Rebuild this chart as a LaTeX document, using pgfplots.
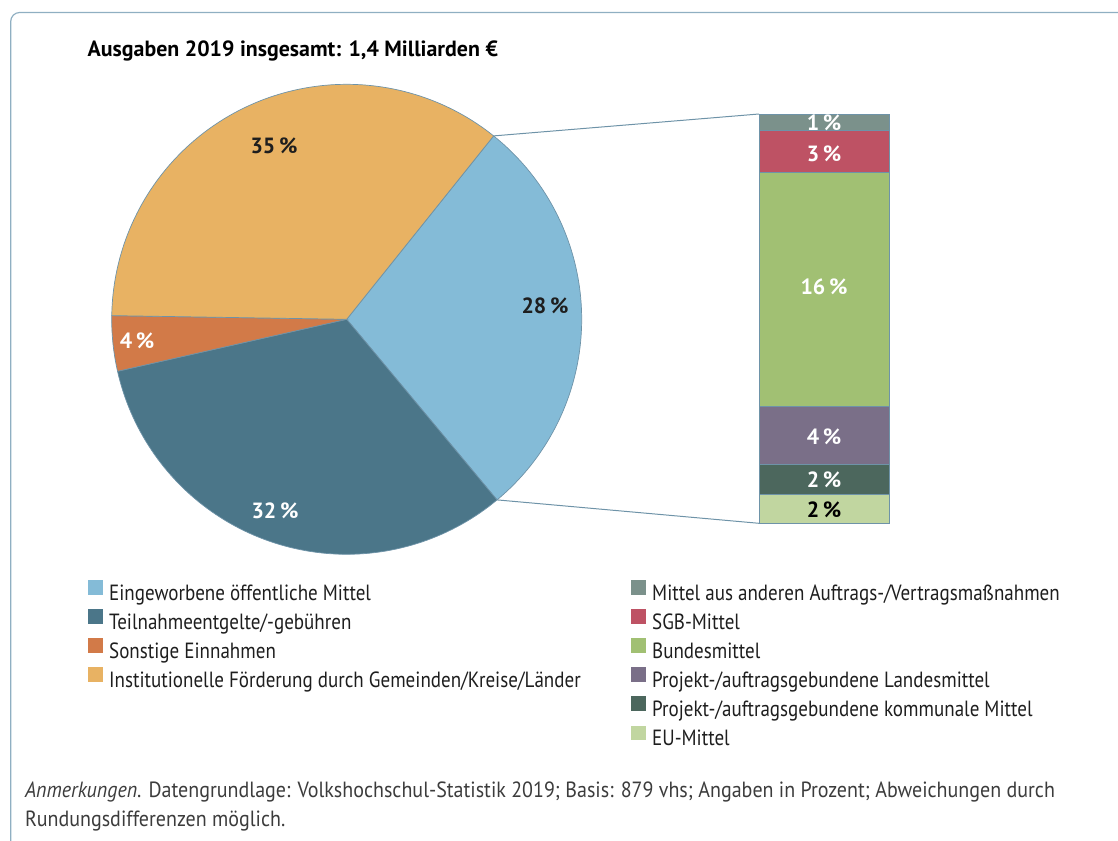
\documentclass[border=0pt]{standalone}
\usepackage{fontspec}
\setmainfont{PT Sans}[FakeStretch=0.865]
\newfontfamily\boldf{PT Sans}[FakeStretch=0.995]
\newfontfamily\notef{PT Sans}[FakeStretch=0.91]
\usepackage{pgfplots}
\usepackage{pgfplotstable}
\pgfplotsset{compat=1.18}

\definecolor{cEing}{HTML}{84BBD7}
\definecolor{cTeil}{HTML}{4B7689}
\definecolor{cSonst}{HTML}{D27A48}
\definecolor{cInst}{HTML}{E8B263}
\definecolor{cAnd}{HTML}{7B918B}
\definecolor{cSGB}{HTML}{BE5264}
\definecolor{cBund}{HTML}{A1C073}
\definecolor{cLand}{HTML}{7A6F88}
\definecolor{cKomm}{HTML}{4C675D}
\definecolor{cEU}{HTML}{C1D6A0}
\definecolor{cLine}{HTML}{6E93A8}
\definecolor{cFrame}{HTML}{8FAFC2}
\definecolor{cText}{HTML}{1E1E1E}
\definecolor{cNote}{HTML}{3C3C3C}

\newcommand\lfont{\fontsize{22bp}{26bp}\selectfont}
\newcommand\bfont{\fontsize{22bp}{26bp}\boldf\bfseries}

% pie: shares of total expenditure (legend order)
\pgfplotstableread{
name value
Eing 28.2
Teil 32.5
Sonst 3.8
Inst 35.5
}\pietable

% bar: split of "Eingeworbene oeffentliche Mittel" (bottom to top)
\pgfplotstableread{
x EU Komm Land Bund SGB And
0 2.0 2.0 4.0 16.0 2.9 1.1
}\bartable

\pgfplotstablegetelem{0}{value}\of\pietable \edef\vA{\pgfplotsretval}
\pgfplotstablegetelem{1}{value}\of\pietable \edef\vB{\pgfplotsretval}
\pgfplotstablegetelem{2}{value}\of\pietable \edef\vC{\pgfplotsretval}
\pgfplotstablegetelem{3}{value}\of\pietable \edef\vD{\pgfplotsretval}

\def\cx{346.7}\def\cy{319.3}\def\R{235}
\pgfmathsetmacro{\eA}{51.3}
\pgfmathsetmacro{\sA}{\eA-3.6*\vA}
\pgfmathsetmacro{\sB}{\sA-3.6*\vB}
\pgfmathsetmacro{\sC}{\sB-3.6*\vC}
\pgfmathsetmacro{\sD}{\sC-3.6*\vD}
\pgfmathsetmacro{\lxA}{88/1118}
\pgfmathsetmacro{\lyA}{(841-580)/841}
\pgfmathsetmacro{\lxB}{(631-759)/130.5}
\pgfmathsetmacro{\lyB}{(523.3-580)/409.3}
% bar geometry (px per percent) for label placement
\def\bBot{523.3}
\pgfmathsetmacro{\bs}{409.3/28}

\pgfplotsset{
  legstyle/.style={
    legend cell align=left,
    legend image code/.code={\fill[##1,draw=none] (0bp,0bp) rectangle (15bp,14.8bp);},
    legend style={draw=none, fill=none, inner sep=0pt, outer sep=0pt,
      font=\lfont, text=cText, row sep=4bp,
      nodes={inner sep=0pt, text height=15.7bp, text depth=4.9bp},
      /tikz/every odd column/.append style={column sep=6.2bp}},
  },
}

\begin{document}
\begin{tikzpicture}
\path[use as bounding box] (0,0) rectangle (1118bp,841bp);
\draw[cFrame, line width=1.2bp, rounded corners=9bp] (10.7bp,-5bp) -- (10.7bp,828.5bp) -- (1130bp,828.5bp);

\begin{axis}[at={(759bp,317.7bp)}, anchor=south west, scale only axis,
  width=130.5bp, height=409.3bp, xmin=-0.5, xmax=0.5, ymin=0, ymax=28,
  hide axis, clip=false, ybar stacked, bar width=130.5bp, legstyle, reverse legend,
  legend style={at={(\lxB,\lyB)}, anchor=north west}]
\addplot[fill=cEU, draw=cLine, line width=0.7bp] table[x=x, y=EU] {\bartable};
\addlegendentry{EU-Mittel}
\addplot[fill=cKomm, draw=cLine, line width=0.7bp] table[x=x, y=Komm] {\bartable};
\addlegendentry{Projekt-/auftragsgebundene kommunale Mittel}
\addplot[fill=cLand, draw=cLine, line width=0.7bp] table[x=x, y=Land] {\bartable};
\addlegendentry{Projekt-/auftragsgebundene Landesmittel}
\addplot[fill=cBund, draw=cLine, line width=0.7bp] table[x=x, y=Bund] {\bartable};
\addlegendentry{Bundesmittel}
\addplot[fill=cSGB, draw=cLine, line width=0.7bp] table[x=x, y=SGB] {\bartable};
\addlegendentry{SGB-Mittel}
\addplot[fill=cAnd, draw=cLine, line width=0.7bp] table[x=x, y=And] {\bartable};
\addlegendentry{Mittel aus anderen Auftrags-/Vertragsmaßnahmen}
\end{axis}

\begin{axis}[at={(0,0)}, anchor=south west, scale only axis,
  width=1118bp, height=841bp, xmin=0, xmax=1118, ymin=0, ymax=841,
  y dir=reverse, hide axis, clip=false, legstyle,
  legend style={at={(\lxA,\lyA)}, anchor=north west}]
\addplot[fill=cEing, draw=cLine, line width=0.7bp, domain=\sA:\eA, samples=90, variable=\t]
  ({\cx+\R*cos(\t)},{\cy-\R*sin(\t)}) -- (axis cs:\cx,\cy) -- cycle;
\addlegendentry{Eingeworbene öffentliche Mittel}
\addplot[fill=cTeil, draw=cLine, line width=0.7bp, domain=\sB:\sA, samples=90, variable=\t]
  ({\cx+\R*cos(\t)},{\cy-\R*sin(\t)}) -- (axis cs:\cx,\cy) -- cycle;
\addlegendentry{Teilnahmeentgelte/-gebühren}
\addplot[fill=cSonst, draw=cLine, line width=0.7bp, domain=\sC:\sB, samples=20, variable=\t]
  ({\cx+\R*cos(\t)},{\cy-\R*sin(\t)}) -- (axis cs:\cx,\cy) -- cycle;
\addlegendentry{Sonstige Einnahmen}
\addplot[fill=cInst, draw=cLine, line width=0.7bp, domain=\sD:\sC, samples=100, variable=\t]
  ({\cx+\R*cos(\t)},{\cy-\R*sin(\t)}) -- (axis cs:\cx,\cy) -- cycle;
\addlegendentry{Institutionelle Förderung durch Gemeinden/Kreise/Länder}

\draw[cLine, line width=1bp] (axis cs:{\cx+\R*cos(\eA)},{\cy-\R*sin(\eA)}) -- (axis cs:759,114);
\draw[cLine, line width=1bp] (axis cs:{\cx+\R*cos(\sA)},{\cy-\R*sin(\sA)}) -- (axis cs:759,523.3);

\node[font=\bfont, text=cText, inner sep=0pt] at (axis cs:274,146) {35\,\%};
\node[font=\bfont, text=cText, inner sep=0pt] at (axis cs:545,306) {28\,\%};
\node[font=\bfont, text=white, inner sep=0pt] at (axis cs:137,341) {4\,\%};
\node[font=\bfont, text=white, inner sep=0pt] at (axis cs:275,511) {32\,\%};

% labels of the stacked bar (segment centres)
\node[font=\bfont, text=black, inner sep=0pt] at (axis cs:824,{\bBot-\bs*0.9}) {2\,\%};
\node[font=\bfont, text=white, inner sep=0pt] at (axis cs:824,{\bBot-\bs*2.95}) {2\,\%};
\node[font=\bfont, text=white, inner sep=0pt] at (axis cs:824,{\bBot-\bs*5.95}) {4\,\%};
\node[font=\bfont, text=white, inner sep=0pt] at (axis cs:824,{\bBot-\bs*16.2}) {16\,\%};
\node[font=\bfont, text=white, inner sep=0pt] at (axis cs:824,{\bBot-\bs*25.3}) {3\,\%};
\node[font=\bfont, text=white, inner sep=0pt] at (axis cs:824,{\bBot-\bs*27.4}) {1\,\%};

\node[font=\bfont, text=black, inner sep=0pt, anchor=base west] at (axis cs:87.5,56.7) {Ausgaben 2019 insgesamt: 1,4 Milliarden €};

\node[font=\lfont\notef, text=cNote, inner sep=0pt, anchor=base west] at (axis cs:24.9,797.3)
  {\textit{Anmerkungen.} Datengrundlage: Volkshochschul-Statistik 2019; Basis: 879 vhs; Angaben in Prozent; Abweichungen durch};
\node[font=\lfont\notef, text=cNote, inner sep=0pt, anchor=base west] at (axis cs:24.9,826.7)
  {Rundungsdifferenzen möglich.};
\end{axis}
\end{tikzpicture}
\end{document}
